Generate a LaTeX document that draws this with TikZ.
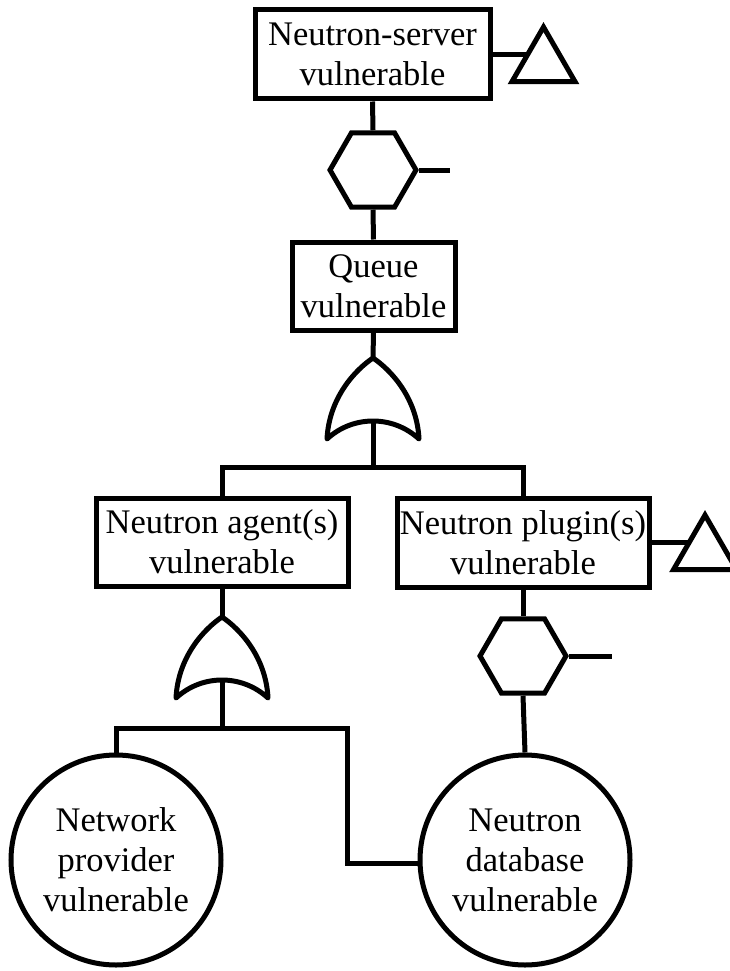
\documentclass[tikz,border=0pt]{standalone}
\usepackage{fontspec}
\setmainfont{Liberation Serif}
\usetikzlibrary{shapes.geometric}

\tikzset{
  ln/.style={line width=5pt},
  lbl/.style={font=\fontsize{34.5}{40}\selectfont, align=center},
  event/.style={draw, ln, rectangle, inner sep=0pt, lbl},
  basic/.style={draw, ln, circle, minimum size=210pt, inner sep=0pt, lbl},
  transfer/.style={draw, ln, regular polygon, regular polygon sides=3,
                   minimum size=72.7pt, inner sep=0pt},
  inhibit/.style={draw, ln, regular polygon, regular polygon sides=6,
                  minimum size=86pt, inner sep=0pt},
  orgate/.pic={
    \draw[ln, line join=round]
      (-46,81) .. controls (-44,40) and (-18,12) .. (0,0)
               .. controls (18,12) and (44,40) .. (46,81)
               .. controls (20,57) and (-20,57) .. cycle;
    \coordinate (-top) at (0,0);
    \coordinate (-bot) at (0,63);
  }
}

\begin{document}
\begin{tikzpicture}[x=1pt, y=-1pt]
  \useasboundingbox (0,0) rectangle (730,971);

  % events
  \node[event, minimum width=235pt, minimum height=89pt] (server) at (372.5,54.5)
       {Neutron-server\\vulnerable};
  \node[event, minimum width=163pt, minimum height=88pt] (queue) at (373.5,286)
       {Queue\\vulnerable};
  \node[event, minimum width=252pt, minimum height=88pt] (agent) at (222,542)
       {Neutron agent(s)\\vulnerable};
  \node[event, minimum width=252pt, minimum height=89pt] (plugin) at (523,542.5)
       {Neutron plugin(s)\\vulnerable};

  % basic events
  \node[basic] (net) at (116,860) {Network\\provider\\vulnerable};
  \node[basic] (db) at (525,860) {Neutron\\database\\vulnerable};

  % transfer triangles
  \node[transfer] (tri1) at (543.5,63.4) {};
  \node[transfer] (tri2) at (705,551.4) {};
  \coordinate (t1in) at (528,54.5);
  \coordinate (t2in) at (689,542.5);

  % inhibit hexagons
  \node[inhibit] (hex1) at (373,170) {};
  \node[inhibit] (hex2) at (523,656) {};
  \coordinate (stub1) at (450,170);
  \coordinate (stub2) at (612,656);

  % or gates
  \pic (g1) at (373,358) {orgate};
  \pic (g2) at (222,617) {orgate};

  % junctions
  \coordinate (j1) at (373,467);
  \coordinate (j2) at (222,728);
  \coordinate (bend) at (347,863);

  % connectors
  \draw[ln] (server.east) -- (t1in);
  \draw[ln] (server.south) -- (hex1.north);
  \draw[ln] (hex1.east) -- (stub1);
  \draw[ln] (hex1.south) -- (queue.north);
  \draw[ln] (queue.south) -- (g1-top);
  \draw[ln] (g1-bot) -- (j1);
  \draw[ln] (agent.north) |- (j1) -| (plugin.north);

  \draw[ln] (plugin.east) -- (t2in);
  \draw[ln] (plugin.south) -- (hex2.north);
  \draw[ln] (hex2.east) -- (stub2);
  \draw[ln] (hex2.south) -- (db.north);

  \draw[ln] (agent.south) -- (g2-top);
  \draw[ln] (g2-bot) -- (j2);
  \draw[ln] (net.north) |- (j2) -| (bend) -- (db.west |- bend);
\end{tikzpicture}
\end{document}
